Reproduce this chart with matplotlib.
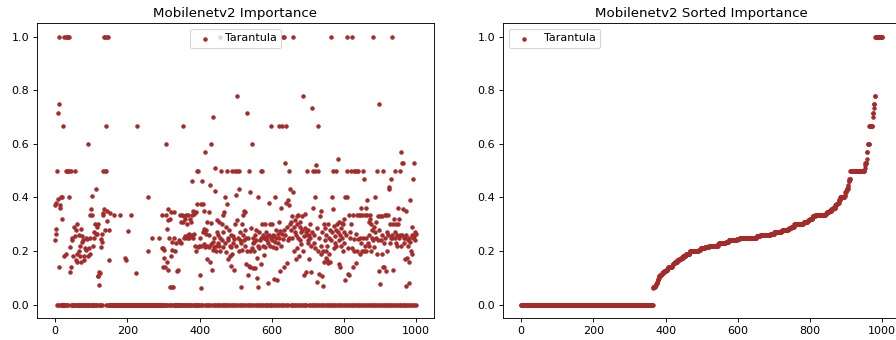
import numpy as np
import matplotlib
matplotlib.use("Agg")
import matplotlib.pyplot as plt

# Tarantula importance per filter index
importance = [
    # 0-99
    0.24, 0.37, 0.38, 0.265, 0.283, 0, 0.5, 0.395, 0.715, 0,
    0.75, 1.0, 0.14, 0.37, 0.36, 0, 0.4, 0, 0, 0.4,
    0.32, 0, 0, 0.667, 0, 1.0, 0.18, 0, 0, 0.19,
    1.0, 0.5, 0, 0.5, 1.0, 0.5, 0, 1.0, 0.5, 0.4,
    1.0, 0.215, 0.12, 0, 0.14, 0.5, 0.25, 0, 0.24, 0,
    0.18, 0, 0.29, 0, 0.255, 0.5, 0, 0.165, 0, 0.28,
    0.3, 0.19, 0.16, 0, 0, 0.26, 0.2, 0, 0.22, 0,
    0.18, 0, 0.283, 0.16, 0.235, 0, 0.255, 0, 0.24, 0.18,
    0.168, 0, 0.212, 0, 0, 0.203, 0.25, 0, 0.243, 0,
    0.18, 0, 0.6, 0.212, 0, 0, 0.25, 0.333, 0.19, 0,
    # 100-199
    0.355, 0.405, 0.335, 0, 0.218, 0, 0, 0.25, 0.27, 0,
    0, 0.3, 0.265, 0.43, 0, 0.265, 0, 0.29, 0.3, 0.105,
    0.106, 0, 0.12, 0.072, 0, 0.118, 0.215, 0, 0.243, 0,
    0.265, 0.235, 0.333, 0.343, 0.5, 0.355, 1.0, 0.277, 0.5, 1.0,
    0, 0.5, 0.667, 1.0, 0.35, 0.313, 1.0, 0, 0.28, 0.168,
    0, 0.343, 0, 0, 0, 0, 0, 0, 0, 0,
    0, 0, 0.333, 0, 0, 0, 0, 0, 0, 0,
    0, 0, 0, 0, 0, 0, 0, 0, 0, 0,
    0.333, 0, 0, 0, 0, 0, 0, 0, 0, 0,
    0, 0, 0, 0, 0, 0.175, 0, 0.168, 0, 0,
    # 200-299
    0, 0, 0, 0.273, 0, 0, 0, 0, 0, 0.333,
    0, 0, 0, 0, 0, 0, 0, 0, 0, 0,
    0, 0, 0, 0, 0.118, 0, 0, 0.667, 0, 0,
    0, 0, 0, 0, 0, 0, 0, 0, 0, 0,
    0, 0, 0, 0, 0, 0, 0, 0, 0, 0,
    0, 0, 0, 0, 0, 0, 0.4, 0, 0.2, 0,
    0, 0, 0, 0, 0, 0, 0, 0, 0.25, 0,
    0, 0, 0, 0, 0, 0, 0, 0, 0, 0,
    0, 0, 0, 0, 0, 0, 0, 0, 0, 0.25,
    0, 0, 0, 0, 0, 0.333, 0, 0.21, 0, 0.14,
    # 300-399
    0.21, 0.175, 0, 0.205, 0, 0.14, 0.6, 0.333, 0, 0.283,
    0.16, 0, 0.13, 0.355, 0.315, 0, 0.25, 0.32, 0.065, 0,
    0.18, 0.345, 0, 0.235, 0.065, 0.205, 0, 0.065, 0.25, 0,
    0.345, 0.2, 0, 0, 0.23, 0, 0, 0, 0.125, 0,
    0.13, 0, 0, 0.24, 0, 0.232, 0, 0.333, 0, 0.31,
    0.23, 0, 0.333, 0, 0.667, 0.31, 0, 0.33, 0.25, 0,
    0.32, 0.255, 0, 0.333, 0.25, 0, 0.3, 0.333, 0, 0.26,
    0.25, 0, 0.265, 0.32, 0, 0.255, 0.31, 0, 0.333, 0.26,
    0.46, 0, 0.25, 0.35, 0, 0.265, 0.34, 0, 0.22, 0.345,
    0, 0.2, 0.375, 0, 0.5, 0.215, 0, 0.5, 0.22, 0,
    # 400-499
    0.25, 0.11, 0, 0.06, 0.22, 0.375, 0, 0.46, 0, 0.375,
    0.27, 0.225, 0.283, 0.35, 0, 0.215, 0.57, 0.265, 0.28, 0,
    0.22, 0.31, 0.17, 0, 0, 0.345, 0.26, 0.215, 0, 0.445,
    0.16, 0.305, 0.6, 0.225, 0, 0.13, 0.7, 0.205, 0.235, 0,
    0.25, 0.215, 0.425, 0.51, 0, 0.22, 0.2, 0, 0.27, 0.315,
    0.23, 0, 0.26, 0.31, 0.22, 0, 1.0, 0.25, 0.2, 0,
    0.5, 0.3, 0.24, 0, 0.27, 0.215, 0.335, 0, 0, 0.345,
    0.23, 0.4, 0.195, 0, 0.29, 0.5, 0.375, 0, 0.25, 0.17,
    0.24, 0, 0.28, 0.18, 0.22, 0, 0.145, 0.26, 0.215, 0,
    0.19, 0.5, 0.255, 0.23, 0, 0.13, 0.245, 0.3, 0, 0.5,
    # 500-599
    0.41, 0.22, 0, 0.315, 0.78, 0.5, 0.25, 0, 0.2, 0.43,
    0.5, 0.24, 0, 0.27, 0.065, 0.23, 0, 0.3, 0.205, 0.26,
    0, 0.335, 0.35, 0.24, 0, 0.345, 0.22, 0.28, 0, 0.25,
    0.15, 0.2, 0.714, 0, 0.11, 0.25, 0.5, 0.145, 0, 0.42,
    0.14, 0.2, 0, 0.285, 0.6, 0.21, 0, 0.135, 0.23, 0.25,
    0.235, 0, 0.2, 0.26, 0.135, 0.28, 0, 0.24, 0.175, 0.1,
    0, 0.4, 0.22, 0.065, 0, 0.27, 0.21, 0.24, 0, 0.5,
    0.25, 0.15, 0, 0.5, 0.3, 0.22, 0, 0.26, 0.185, 0.25,
    0, 0.3, 0.215, 0.245, 0, 0.27, 0.24, 0, 0.255, 0.23,
    0.08, 0, 0.38, 0.26, 0.3, 0, 0.22, 0.667, 0.25, 0,
    # 600-699
    0.3, 0.24, 0, 0.26, 0.215, 0.095, 0, 0.255, 0.235, 0.4,
    0, 0.28, 0.21, 0.25, 0, 0.09, 0.265, 0.23, 0, 0.31,
    0.25, 0.667, 0, 0.275, 0.125, 0.22, 0.36, 0, 0.265, 0.667,
    0.245, 1.0, 0, 1.0, 0.28, 0.14, 0, 0.53, 0.26, 0.667,
    0.38, 0, 0.155, 0.29, 0.24, 0, 0.39, 0.37, 0.25, 0.5,
    0.3, 0.43, 0, 0.28, 0.31, 0.25, 0, 0.33, 0.42, 1.0,
    0, 0.29, 0.2, 0.27, 0, 0.315, 0.17, 0.26, 0, 0.3,
    0.33, 0.21, 0, 0.25, 0.335, 0.18, 0, 0.29, 0.24, 0.31,
    0, 0.27, 0.225, 0.33, 0, 0.28, 0.78, 0.2, 0, 0.255,
    0.11, 0.34, 0, 0.285, 0.12, 0.27, 0, 0.5, 0.26, 0.23,
    # 700-799
    0.28, 0.24, 0, 0.26, 0.17, 0.3, 0, 0.25, 0.22, 0.12,
    0, 0.733, 0.27, 0.36, 0, 0.5, 0.23, 0.26, 0, 0.4,
    0.5, 0.21, 0, 0.52, 0.285, 0.085, 0, 0.5, 0.2, 0.667,
    0, 0.25, 0.115, 0.33, 0, 0.19, 0.35, 0.22, 0, 0.105,
    0.27, 0.07, 0, 0.2, 0.3, 0.16, 0, 0.24, 0.285, 0.175,
    0.2, 0.26, 0, 0.165, 0.22, 0.3, 0, 0.155, 0.25, 0.19,
    0, 0.28, 0.16, 0.24, 0, 1.0, 0.27, 0.4, 0, 0.355,
    0.5, 0.21, 0, 0.295, 0.23, 0.255, 0, 0.28, 0.5, 0.22,
    0, 0.3, 0.545, 0.27, 0, 0.15, 0.24, 0.31, 0, 0.26,
    0.14, 0.285, 0, 0.22, 0.305, 0.25, 0, 0.2, 0.3, 0.27,
    # 800-899
    0.23, 0.32, 0, 0.09, 0.4, 0.26, 0, 0.4, 0.5, 1.0,
    0, 0.21, 0.115, 0.333, 0, 0.11, 0.27, 0.25, 0, 0.5,
    0.3, 1.0, 0, 0.21, 0.14, 0.333, 0, 0.5, 0.245, 0.2,
    0, 0.5, 0.155, 0.265, 0, 0.5, 0.333, 0.2, 0, 0.5,
    0.245, 0.333, 0, 0.19, 0.25, 0.333, 0, 0.23, 0.36, 0.2,
    0.333, 0, 0.25, 0.5, 0.2, 0, 0.47, 0.333, 0.22, 0,
    0.36, 0.25, 0.2, 0, 0.333, 0.39, 0.23, 0, 0.22, 0.31,
    0.26, 0, 0.32, 0.333, 0.3, 0, 0.2, 0.28, 0.25, 0,
    1.0, 0.24, 0.29, 0, 0.215, 0.27, 0.4, 0, 0.25, 0.31,
    0.19, 0, 0.5, 0.24, 0.33, 0, 0.75, 0.125, 0.28, 0,
    # 900-999
    0.33, 0.075, 0.24, 0, 0.26, 0.19, 0.33, 0, 0.14, 0.5,
    0.23, 0, 0.14, 0.333, 0.25, 0, 0.125, 0.333, 0.27, 0,
    0.2, 0.333, 0.26, 0, 0.44, 0.43, 0.23, 0, 0.3, 0.47,
    0.25, 0, 0.26, 1.0, 0.25, 0, 0.13, 0.3, 0.32, 0,
    0.25, 0.5, 0.27, 0, 0.23, 0.3, 0.22, 0, 0.26, 0.36,
    0.3, 0.32, 0, 0.25, 0.5, 0, 0.26, 0.57, 0.22, 0,
    0.53, 0.26, 0, 0.53, 0.355, 0.25, 0, 0.23, 0.25, 0.17,
    0, 0.07, 0.26, 0.35, 0, 0.175, 0.24, 0.22, 0, 0.16,
    0.08, 0.25, 0, 0.39, 0.235, 0.2, 0, 0.19, 0.26, 0.29,
    0, 0.25, 0.47, 0.255, 0, 0.53, 0.27, 0.24, 0, 0.265,
]

model_name = "Mobilenetv2"
method_label = "Tarantula"

imp = np.array(importance)
idx = np.arange(len(imp))
sorted_imp = np.sort(imp)

# rendered at 80 dpi so the default font sizes come out like the reference
fig = plt.figure(figsize=(11.2, 4.25), dpi=80)
ax1 = fig.add_axes([0.0413, 0.065, 0.443, 0.866])
ax2 = fig.add_axes([0.5614, 0.065, 0.443, 0.866])

ax1.scatter(idx, imp, s=9, color="brown", label=method_label)
ax1.set_title(f"{model_name} Importance")
ax1.legend(loc="upper center")

ax2.scatter(idx, sorted_imp, s=9, color="brown", label=method_label)
ax2.set_title(f"{model_name} Sorted Importance")
ax2.legend(loc="upper left")

for ax in (ax1, ax2):
    ax.set_xticks([0, 200, 400, 600, 800, 1000])
    ax.set_yticks([0.0, 0.2, 0.4, 0.6, 0.8, 1.0])

fig.savefig("out.png", dpi=80)
